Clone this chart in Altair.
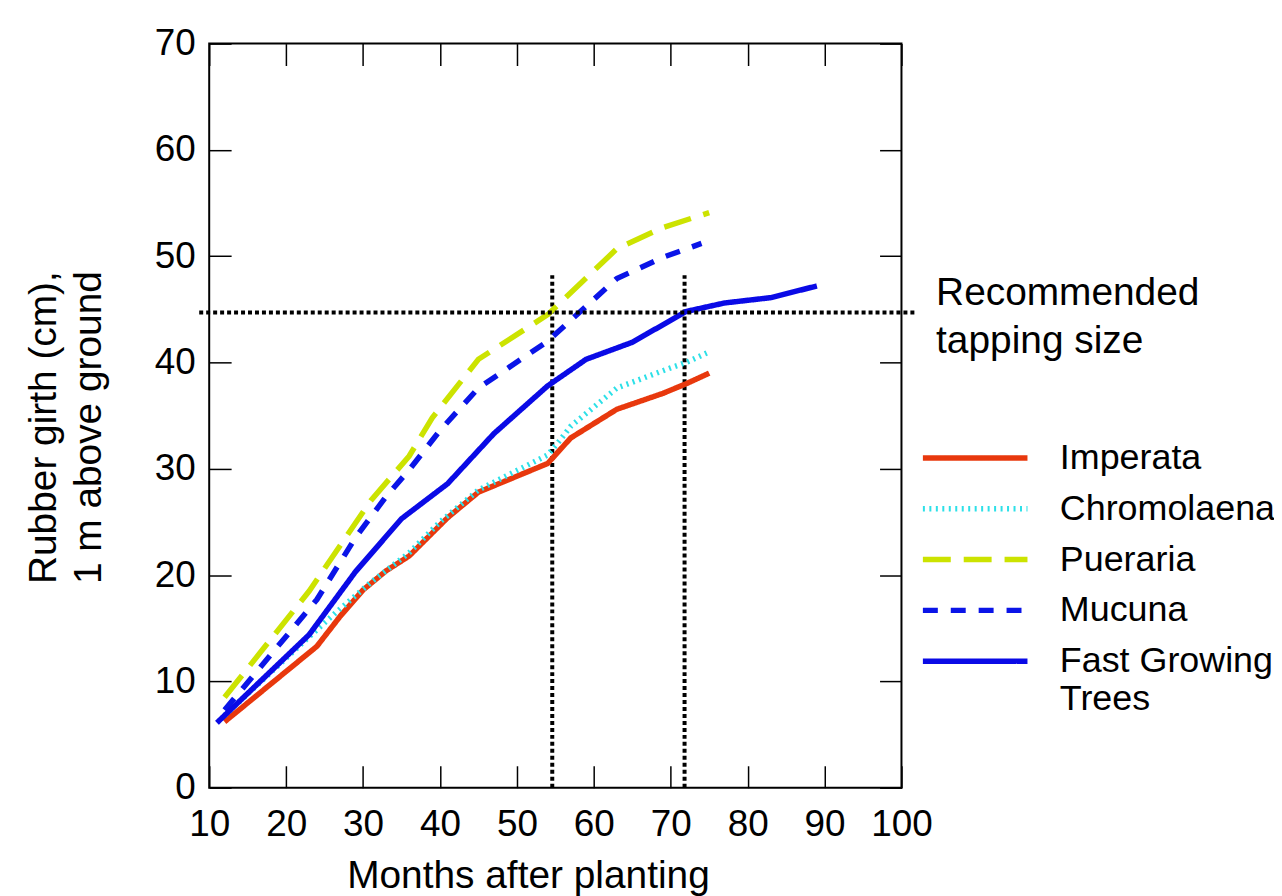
import altair as alt
import pandas as pd

series_names = ["Imperata", "Chromolaena", "Pueraria", "Mucuna", "Fast Growing Trees"]
series_colors = ["#E8380D", "#2DE0E8", "#CCE300", "#0A14E8", "#0A0AE6"]
series_dashes = [[1, 0], [2, 4.5], [28, 13], [15, 13], [1, 0]]

imperata_m = [12, 24, 27, 30, 33, 36, 41, 45, 54, 57, 63, 69, 72, 75]
imperata_v = [6.2, 13.3, 16.1, 18.6, 20.4, 21.8, 25.4, 27.8, 30.5, 32.9, 35.6, 37.1, 38.0, 39.0]

chromolaena_m = [12, 23, 26.5, 31, 36, 40, 45, 54, 55.5, 57, 63, 70, 72, 75]
chromolaena_v = [6.8, 14.2, 16.5, 19.3, 22.1, 25.0, 28.0, 31.3, 32.6, 34.0, 37.6, 39.5, 40.0, 41.0]

pueraria_m = [12, 23, 31, 36, 39, 45, 54, 63, 69, 75]
pueraria_v = [8.5, 18.5, 27.0, 31.2, 34.8, 40.3, 44.5, 50.7, 52.7, 54.1]

mucuna_m = [12, 24, 29, 33, 36, 40, 45, 54, 63, 69, 74]
mucuna_v = [7.3, 17.7, 23.5, 27.4, 29.9, 33.6, 37.6, 42.0, 47.9, 49.9, 51.2]

fgt_m = [11, 23, 29, 35, 41, 47, 54, 59, 65, 72, 77, 83, 89]
fgt_v = [6.1, 14.4, 20.3, 25.3, 28.6, 33.3, 37.8, 40.3, 41.9, 44.8, 45.6, 46.1, 47.2]

x_ticks = [10, 20, 30, 40, 50, 60, 70, 80, 90, 100]
y_ticks = [0, 10, 20, 30, 40, 50, 60, 70]

tapping_size = 44.7
tap_line_span = [8.7, 101.9]
tap_months = [54.6, 71.8]
tap_marker_top = 48.2
annotation_x = 104.5
annotation_text = ["Recommended", "tapping size"]

rows = []
for name, ms, vs in zip(series_names,
                        [imperata_m, chromolaena_m, pueraria_m, mucuna_m, fgt_m],
                        [imperata_v, chromolaena_v, pueraria_v, mucuna_v, fgt_v]):
    for i, (m, v) in enumerate(zip(ms, vs)):
        rows.append({"series": name, "month": m, "girth": v, "order": i})
df = pd.DataFrame(rows)

FONT = "Liberation Sans"
xscale = alt.Scale(domain=[10, 100], nice=False, zero=False)
yscale = alt.Scale(domain=[0, 70], nice=False, zero=False)

legend_cfg = dict(
    title=None, orient="none", legendX=742, legendY=389,
    symbolType="M-2.2,0L2.2,0", symbolSize=2278, symbolStrokeWidth=5.5,
    labelFontSize=36, labelFont=FONT, labelOffset=58, rowPadding=6,
    labelColor="black", labelLimit=400, gridAlign="none",
    labelExpr="datum.label == 'Fast Growing Trees' ? ['Fast Growing', 'Trees'] : datum.label",
)

lines = alt.Chart(df).mark_line(strokeWidth=5.5).encode(
    x=alt.X("month:Q", scale=xscale,
            axis=alt.Axis(orient="bottom", values=x_ticks, title="Months after planting",
                          domain=False, grid=False, tickSize=22, offset=-22, tickWidth=1.5,
                          tickColor="black", labelPadding=19, labelFontSize=37,
                          labelFont=FONT, labelColor="black", titleFontSize=39,
                          titleFont=FONT, titleFontWeight="normal", titleColor="black",
                          titlePadding=14, titleX=320, labelFlush=False)),
    y=alt.Y("girth:Q", scale=yscale,
            axis=alt.Axis(orient="left", values=y_ticks,
                          title=["Rubber girth (cm),", "1 m above ground"],
                          domain=False, grid=False, tickSize=22, offset=-22, tickWidth=1.5,
                          tickColor="black", labelPadding=14, labelFontSize=37,
                          labelFont=FONT, labelColor="black", titleFontSize=39,
                          titleFont=FONT, titleFontWeight="normal", titleColor="black",
                          titlePadding=46, titleLineHeight=45, titleY=385,
                          labelFlush=False)),
    color=alt.Color("series:N", sort=series_names,
                    scale=alt.Scale(domain=series_names, range=series_colors),
                    legend=alt.Legend(**legend_cfg)),
    strokeDash=alt.StrokeDash("series:N", sort=series_names,
                              scale=alt.Scale(domain=series_names, range=series_dashes),
                              legend=alt.Legend(**legend_cfg)),
    order="order:Q",
    detail="series:N",
)

hdf = pd.DataFrame({"x": [tap_line_span[0]], "x2": [tap_line_span[1]], "y": [tapping_size]})
hrule = alt.Chart(hdf).mark_rule(color="black", strokeWidth=4, strokeDash=[4, 3]).encode(
    x=alt.X("x:Q", scale=xscale,
            axis=alt.Axis(orient="top", values=x_ticks, title=None, labels=False,
                          domain=False, grid=False, tickSize=22, offset=-22, tickWidth=1.5,
                          tickColor="black")),
    x2="x2:Q",
    y=alt.Y("y:Q", scale=yscale,
            axis=alt.Axis(orient="right", values=y_ticks, title=None, labels=False,
                          domain=False, grid=False, tickSize=22, offset=-22, tickWidth=1.5,
                          tickColor="black")),
)

vdf = pd.DataFrame({"x": tap_months, "y": [0, 0], "y2": [tap_marker_top, tap_marker_top]})
vrules = alt.Chart(vdf).mark_rule(color="black", strokeWidth=4, strokeDash=[4, 3]).encode(
    x=alt.X("x:Q", scale=xscale, axis=None),
    y=alt.Y("y:Q", scale=yscale, axis=None),
    y2="y2:Q",
)

adf = pd.DataFrame({"x": [annotation_x], "y": [tapping_size]})
annot = alt.Chart(adf).mark_text(text=annotation_text, align="left", baseline="alphabetic",
                                 dy=-8, fontSize=39, lineHeight=49, color="black",
                                 font=FONT).encode(
    x=alt.X("x:Q", scale=xscale, axis=None),
    y=alt.Y("y:Q", scale=yscale, axis=None),
)

chart = alt.layer(vrules, lines, hrule, annot).resolve_scale(
    x="shared", y="shared"
).resolve_axis(
    x="independent", y="independent"
).properties(
    width=695, height=747,
    autosize=alt.AutoSizeParams(type="none"),
    padding={"left": 202, "top": 34, "right": 374, "bottom": 107},
).configure(
    font=FONT,
).configure_view(
    stroke="black", strokeWidth=2,
)

chart.save("out.html", embed_options={"renderer": "svg", "actions": False})
